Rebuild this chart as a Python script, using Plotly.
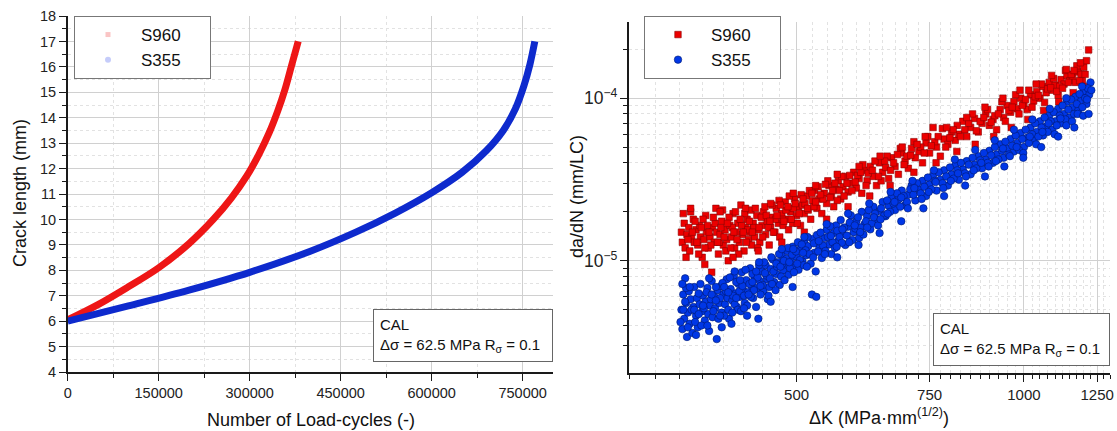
import math
import plotly.graph_objects as go

W, H = 1117, 431
FONT = "Liberation Sans, Arial, Helvetica, sans-serif"

# ---------------- data ----------------
# Left panel: crack length (mm) vs number of load cycles
s960_cycles = [0, 50000, 100000, 150000, 200000, 240000, 270000, 295000, 315000, 332000, 346000, 358000,
               369000, 380000]
s960_crack = [6.05, 6.65, 7.35, 8.1, 9.05, 10.0, 10.85, 11.7, 12.55, 13.4, 14.25, 15.1, 16.05, 17.0]

s355_cycles = [0, 100000, 200000, 300000, 400000, 475000, 540000, 600000, 650000, 690000, 718000, 738000,
               752000, 762000, 770000]
s355_crack = [6.0, 6.6, 7.22, 7.92, 8.75, 9.5, 10.25, 11.05, 11.85, 12.7, 13.5, 14.35, 15.25, 16.1, 17.0]

# Right panel: da/dN (in 1e-6 mm/LC) vs Delta K (MPa mm^0.5)
s960_dk = [352, 353, 355, 356, 358, 360, 361, 363, 365, 366, 368, 370, 372, 373, 375, 377, 379, 380, 382, 384,
           386, 387, 389, 391, 392, 394, 396, 398, 400, 402, 404, 406, 408, 410, 412, 414, 416, 418, 420, 422,
           424, 426, 428, 430, 432, 434, 436, 438, 440, 443, 445, 447, 450, 452, 455, 457, 460, 462, 465, 468,
           470, 473, 475, 478, 480, 483, 486, 488, 491, 494, 497, 500, 503, 506, 509, 512, 515, 518, 522, 525,
           528, 532, 536, 540, 544, 548, 552, 556, 560, 564, 568, 572, 576, 580, 585, 590, 595, 600, 605, 610,
           615, 620, 626, 632, 638, 644, 650, 656, 662, 668, 675, 682, 689, 696, 703, 710, 718, 726, 734, 742,
           750, 758, 766, 775, 784, 793, 802, 811, 820, 830, 840, 850, 860, 870, 880, 890, 900, 910, 920, 930,
           940, 950, 960, 970, 980, 990, 1000, 1010, 1020, 1030, 1040, 1050, 1060, 1070, 1080, 1090, 1100, 1110,
           1120, 1130, 1140, 1150, 1160, 1170, 1180, 1190, 1200, 1210, 1218,
           354, 357, 362, 367, 371, 376, 381, 385, 390, 395, 399, 403, 407, 411, 415, 419, 423, 427, 431, 435,
           439, 444, 449, 454, 459, 464, 469, 474, 479, 484, 489, 495, 501, 507, 513, 520, 527, 534, 542, 550,
           558, 566, 574, 583, 592, 602, 612, 622, 635, 647, 659, 672, 686, 700, 715, 730, 746, 762, 780, 798,
           816, 835, 855, 875, 895, 915, 935, 955, 975, 995, 1015, 1035, 1055, 1075, 1095, 1115, 1135, 1155,
           1175, 1195,
           359, 364, 369, 374, 378, 383, 388, 393, 397, 401, 405, 409, 413, 417, 421, 425, 429, 433, 437, 441,
           446, 451, 456, 461, 466, 471, 476, 481, 487, 492, 498, 504, 510, 517, 524, 530, 538, 546, 554, 562,
           570, 578, 588, 598, 608, 618, 630, 642, 654, 666, 680, 694, 708, 722, 738, 754, 770, 788, 806, 824,
           845, 865, 885, 905, 925, 945, 965, 985, 1005, 1025, 1045, 1065, 1085, 1105, 1125, 1145, 1165, 1185,
           1205,
           362, 378, 396, 412, 428, 445, 462, 478, 495, 512, 530, 548, 566, 585, 605, 625, 645, 665, 690, 715,
           740, 765, 790, 815, 840, 862, 888, 912, 938, 962, 988, 1012, 1038, 1062, 1088, 1112, 1138, 1162,
           1188, 1208]
s960_dadn = [15, 13, 17, 12, 14.5, 16, 11.5, 14, 18, 13, 15.5, 12.5, 16.5, 14, 10.5, 13.5, 19, 15, 12, 14,
             8.5, 16, 13, 21, 15, 11, 14.5, 17.5, 12.5, 15.5, 13.5, 10, 16.5, 14, 19.5, 12, 15, 17, 13, 22,
             14.5, 11.5, 16, 18, 13.5, 15, 12.5, 17, 14, 19, 15.5, 13, 16.5, 20, 14.5, 17.5, 12.5, 16, 18.5, 15,
             21, 17, 14, 19.5, 16.5, 23, 18, 15.5, 20, 17, 24, 19, 21.5, 16.5, 22, 19.5, 25, 20.5, 18, 23.5,
             27, 21, 24, 19.5, 26, 22.5, 29, 25, 21.5, 27.5, 31, 24, 28.5, 33, 26.5, 30, 35, 28, 32, 26,
             36, 31, 38, 33, 29, 40, 35, 37.5, 32, 43, 38, 34, 46, 41, 37, 49, 43, 47, 40, 53,
             46, 66, 50, 44, 56, 52, 62, 55, 60, 72, 58, 66, 75, 62, 70, 80, 68, 74, 64, 85,
             76, 90, 82, 95, 86, 100, 92, 85, 105, 96, 110, 100, 118, 108, 125, 112, 120, 104,
             130, 122, 138, 128, 135, 125, 145, 140, 155, 170, 198,
             19.5, 10.5, 20, 17.5, 11, 18, 16.5, 12.5, 17, 13, 20.5, 11.5, 18.5, 16, 20, 11, 16.5, 19.5, 15.5, 20.5,
             16, 12, 18.5, 21.5, 16, 22, 18, 23.5, 18, 20.5, 25, 21, 17, 25.5, 22.5, 27, 21.5, 28.5, 24, 31,
             27, 23.5, 33, 30, 27, 33.5, 39, 34.5, 41, 31, 44, 40, 49, 44, 54, 50, 58, 54, 65, 57,
             68, 64, 80, 72, 85, 78, 95, 84, 105, 90, 112, 102, 122, 114, 132, 118, 148, 140,
             158, 128,
             13.5, 15, 13, 16, 12, 15, 18.5, 13, 16, 14, 17, 12, 15, 13.5, 18, 15, 13, 17.5, 15, 21,
             16, 14, 19, 17.5, 15, 19, 22, 17.5, 21.5, 18, 22.5, 19.5, 24, 21, 26, 23, 25.5, 29.5, 24.5, 30,
             27, 25, 33.5, 30.5, 35, 29, 36, 33, 41, 36, 45, 39, 44.5, 52, 46, 51, 58, 50, 64, 58,
             70, 63, 76, 71, 80, 72, 88, 80, 98, 88, 104, 94, 116, 110, 115, 125, 148, 128,
             140,
             21, 9.5, 20, 10.5, 21, 11.5, 22.5, 13, 26, 15, 29, 18, 34, 21.5, 38, 25, 44, 29, 50, 35,
             58, 40, 66, 47, 76, 52, 88, 58, 100, 66, 112, 74, 122, 84, 138, 95, 150, 108,
             165, 118]

s355_dk = [352, 353, 354, 355, 356, 357, 358, 359, 360, 361, 362, 364, 365, 366, 368, 369, 370, 372, 373, 375,
           376, 378, 379, 381, 382, 384, 386, 387, 389, 390, 392, 393, 395, 397, 398, 400, 402, 404, 405, 407,
           409, 411, 413, 415, 417, 419, 421, 423, 425, 427, 429, 431, 434, 436, 438, 440, 443, 445, 447, 450,
           452, 455, 457, 460, 462, 465, 467, 470, 473, 475, 478, 480, 483, 486, 488, 491, 494, 497, 500, 503,
           506, 509, 512, 515, 518, 522, 524, 525, 528, 531, 532, 536, 540, 544, 548, 552, 556, 560, 564, 568,
           572, 576, 580, 585, 590, 595, 600, 605, 610, 615, 620, 626, 632, 638, 644, 650, 656, 662, 668, 675,
           682, 689, 696, 703, 710, 718, 726, 734, 742, 750, 758, 766, 775, 784, 793, 802, 811, 820, 830, 840,
           850, 860, 870, 880, 890, 900, 910, 920, 930, 940, 950, 960, 970, 980, 990, 1000, 1010, 1020, 1030,
           1040, 1050, 1060, 1070, 1080, 1090, 1100, 1110, 1120, 1130, 1140, 1150, 1160, 1170, 1180, 1190, 1200,
           1210, 1220, 1225,
           351, 354, 357, 359, 363, 367, 371, 374, 377, 380, 383, 385, 388, 391, 394, 396, 399, 401, 403, 406,
           408, 410, 412, 414, 416, 418, 420, 422, 424, 426, 428, 430, 433, 435, 437, 439, 442, 444, 446, 448,
           451, 453, 456, 458, 461, 463, 466, 469, 471, 474, 477, 479, 482, 485, 487, 490, 493, 496, 499, 502,
           505, 508, 511, 514, 517, 520, 527, 534, 538, 542, 546, 550, 554, 558, 562, 566, 570, 574, 578, 583,
           588, 593, 598, 603, 608, 613, 618, 623, 629, 635, 641, 647, 653, 659, 665, 672, 679, 686, 693, 700,
           707, 714, 722, 730, 738, 746, 754, 762, 771, 780, 789, 798, 807, 816, 825, 835, 845, 855, 865, 875,
           885, 895, 905, 915, 925, 935, 945, 955, 965, 975, 985, 995, 1005, 1015, 1025, 1035, 1045, 1055, 1065,
           1075, 1085, 1095, 1105, 1115, 1125, 1135, 1145, 1155, 1165, 1175, 1185, 1195, 1205, 1215,
           356, 361, 366, 371, 376, 381, 386, 391, 396, 401, 406, 411, 416, 421, 426, 432, 437, 442, 448, 454,
           459, 464, 470, 476, 481, 489, 495, 501, 510, 516, 526, 535, 545, 555, 565, 575, 587, 597, 607, 620,
           633, 646, 660, 674, 688, 702, 716, 732, 748, 764, 782, 800, 818, 838, 858, 878, 898, 918, 938, 958,
           978, 998, 1018, 1038, 1058, 1078, 1098, 1118, 1138, 1158, 1178, 1198, 1212, 1228,
           353, 368, 383, 398, 414, 430, 446, 462, 478, 494, 512, 530, 548, 566, 585, 604, 624, 644, 666, 688,
           712, 736, 760, 784, 810, 836, 862, 888, 915, 942, 970, 998, 1026, 1054, 1082, 1110, 1138, 1166,
           1194, 1218]
s355_dadn = [5.0, 3.8, 6.2, 4.4, 7.8, 5.5, 3.4, 4.8, 6.5, 4.1, 5.8, 3.6, 5.2, 6.9, 4.6, 5.9, 3.9, 5.4, 7.2, 4.9,
             6.1, 4.3, 5.6, 6.8, 4.7, 5.3, 7.5, 4.5, 6.0, 5.1, 3.3, 6.6, 5.5, 7.0, 4.8, 6.2, 5.4, 7.7, 5.9, 4.4,
             6.7, 5.7, 8.1, 6.3, 5.2, 7.2, 6.0, 8.5, 6.6, 5.5, 7.6, 6.4, 9.0, 7.0, 5.9, 8.0, 6.8, 4.4, 7.5, 8.6,
             6.5, 9.4, 7.7, 6.9, 8.9, 10.2, 7.4, 8.3, 9.8, 7.1, 10.8, 8.7, 9.5, 11.5, 8.2, 10.0, 12.2, 9.1, 10.6, 8.8,
             11.8, 9.9, 13.0, 10.8, 12.3, 9.6, 6.2, 13.6, 11.2, 6.0, 14.4, 12.0, 10.4, 13.8, 15.5, 12.6, 11.0, 14.8, 16.5, 13.3,
             17.8, 14.6, 12.5, 16.2, 19.0, 15.0, 17.5, 13.8, 20.0, 16.8, 18.8, 15.6, 21.5, 17.8, 20.2, 23.0, 18.8, 21.8, 25.0, 20.5,
             23.8, 27.0, 22.0, 25.5, 29.0, 23.5, 27.5, 31.0, 25.0, 29.5, 33.5, 27.0, 31.5, 36.0, 29.0, 34.0, 38.5, 31.5, 36.5, 41.0,
             34.0, 39.0, 44.0, 37.0, 42.0, 47.5, 40.0, 45.0, 52.0, 43.0, 49.0, 56.0, 47.0, 53.0, 61.0, 50.0, 57.0, 66.0, 55.0,
             62.0, 72.0, 59.0, 67.0, 78.0, 64.0, 72.0, 86.0, 70.0, 80.0, 95.0, 76.0, 88.0, 102.0, 84.0, 96.0, 110.0,
             92.0, 105.0, 125.0,
             4.2, 5.0, 6.8, 3.9, 5.0, 4.2, 6.3, 4.0, 5.1, 6.4, 3.7, 5.8, 4.9, 6.9, 4.4, 5.9, 7.3, 4.6, 6.5, 5.0,
             7.9, 4.1, 6.1, 5.4, 7.4, 5.0, 6.5, 4.9, 7.0, 6.1, 8.8, 5.3, 7.2, 6.0, 8.3, 6.6, 5.2, 7.9, 9.4, 6.2,
             7.1, 9.8, 8.1, 5.8, 7.8, 10.5, 8.6, 6.6, 9.2, 11.0, 8.0, 9.6, 7.6, 10.3, 12.0, 9.0, 10.9, 8.5, 11.4, 13.0,
             10.1, 12.6, 9.4, 11.6, 14.0, 11.0, 12.8, 11.4, 14.9, 12.4, 11.5, 14.0, 16.3, 13.0, 12.0, 15.3, 14.0, 12.9, 16.0, 14.3,
             17.2, 13.4, 15.8, 18.5, 16.0, 14.5, 17.5, 20.5, 17.0, 19.5, 16.5, 21.0, 19.0, 23.5, 20.0, 22.5, 26.0, 21.5, 25.0, 23.0,
             27.5, 25.5, 30.0, 26.0, 28.5, 32.5, 27.5, 31.0, 35.0, 30.0, 33.0, 37.5, 32.0, 36.0, 40.0, 34.5, 39.0, 43.0, 37.0, 41.5,
             46.0, 40.0, 44.5, 50.0, 42.0, 47.5, 54.0, 45.0, 51.0, 59.0, 48.0, 56.0, 64.0, 53.0, 60.0, 70.0, 58.0, 66.0, 76.0,
             62.0, 72.0, 82.0, 68.0, 78.0, 90.0, 74.0, 85.0, 98.0, 80.0, 92.0, 106.0, 88.0, 100.0, 115.0,
             5.6, 6.9, 5.0, 4.7, 5.3, 4.0, 6.2, 5.7, 4.6, 6.9, 6.4, 4.8, 5.9, 7.6, 5.1, 6.2, 7.4, 8.6, 7.0, 8.4,
             6.1, 7.2, 9.6, 9.2, 10.0, 9.8, 11.8, 9.6, 11.2, 9.2, 10.5, 13.2, 11.0, 14.2, 12.2, 15.6, 13.0, 16.5, 15.0, 16.0,
             18.5, 18.0, 19.5, 23.0, 24.5, 21.0, 28.0, 24.0, 26.5, 30.5, 28.0, 31.0, 34.5, 33.0, 36.0, 40.0, 38.0, 41.0, 49.0, 44.0,
             50.0, 46.0, 58.0, 52.0, 62.0, 70.0, 60.0, 75.0, 68.0, 72.0, 80.0, 78.0, 98.0, 112.0,
             7.2, 3.5, 7.8, 3.9, 8.6, 4.6, 9.8, 5.6, 11.8, 6.9, 14.0, 8.6, 16.8, 10.5, 19.5, 12.5, 22.5, 14.8, 26.5, 17.5,
             31.0, 21.0, 36.0, 25.0, 42.0, 29.0, 48.0, 33.0, 55.0, 38.0, 64.0, 43.0, 74.0, 50.0, 86.0, 58.0, 100.0, 66.0,
             118.0, 80.0]

cycle_ticks = [0, 150000, 300000, 450000, 600000, 750000]
dk_ticks = [500, 750, 1000, 1250]
series_names = ["S960", "S355"]
box_lines = ["CAL", "Δσ = 62.5 MPa R<sub>σ</sub> = 0.1"]

# ---------------- styling ----------------
RED_LINE = "rgb(238,22,22)"
BLUE_LINE = "rgb(14,42,205)"
PAD = "\u00a0" * 5  # widens the legend boxes like the reference


def fx(p):
    return p / W


def fy(p):
    return 1 - p / H


fig = go.Figure()

# Left panel curves
fig.add_trace(go.Scatter(x=s960_cycles, y=s960_crack, mode="lines",
                         line=dict(color=RED_LINE, width=7, shape="spline", smoothing=1.0),
                         xaxis="x", yaxis="y", showlegend=False, hoverinfo="skip"))
fig.add_trace(go.Scatter(x=s355_cycles, y=s355_crack, mode="lines",
                         line=dict(color=BLUE_LINE, width=7, shape="spline", smoothing=1.0),
                         xaxis="x", yaxis="y", showlegend=False, hoverinfo="skip"))
# Left legend entries (faint symbols as in the reference)
fig.add_trace(go.Scatter(x=[None], y=[None], mode="markers", name=series_names[0] + PAD,
                         marker=dict(symbol="square", size=5, color="rgba(240,90,90,0.35)"),
                         xaxis="x", yaxis="y", legend="legend"))
fig.add_trace(go.Scatter(x=[None], y=[None], mode="markers", name=series_names[1] + PAD,
                         marker=dict(symbol="circle", size=6, color="rgba(90,110,240,0.35)"),
                         xaxis="x", yaxis="y", legend="legend"))

# Right panel scatter
fig.add_trace(go.Scatter(x=s960_dk, y=[v * 1e-6 for v in s960_dadn], mode="markers", name=series_names[0] + PAD,
                         marker=dict(symbol="square", size=6.5, color="rgb(236,0,0)",
                                     line=dict(color="rgb(140,0,0)", width=0.6)),
                         xaxis="x2", yaxis="y2", legend="legend2"))
fig.add_trace(go.Scatter(x=s355_dk, y=[v * 1e-6 for v in s355_dadn], mode="markers", name=series_names[1] + PAD,
                         marker=dict(symbol="circle", size=7.5, color="rgb(0,55,230)",
                                     line=dict(color="rgb(0,25,110)", width=0.6)),
                         xaxis="x2", yaxis="y2", legend="legend2"))

axis_common = dict(showline=True, linecolor="#1a1a1a", linewidth=1.5, ticks="outside", ticklen=7,
                   tickwidth=1.3, tickcolor="#1a1a1a", showgrid=True, gridcolor="#d0d0d0", gridwidth=1,
                   zeroline=False, mirror=False, automargin=False)
minor_common = dict(ticks="outside", ticklen=4, tickwidth=1, tickcolor="#1a1a1a", showgrid=True,
                    gridcolor="#e2e2e2", griddash="dot", gridwidth=1)

left_x = [67.7, 553]
left_y = [16, 372]
right_x = [629, 1110]
right_y = [21.7, 373]

minor_dk = [v for v in range(300, 1301, 25) if v not in dk_ticks]

fig.update_layout(
    template="none",
    width=W, height=H, autosize=False,
    margin=dict(l=0, r=0, t=0, b=0, pad=0, autoexpand=False),
    paper_bgcolor="white", plot_bgcolor="white",
    font=dict(family=FONT, size=14, color="#222"),
    hovermode=False,
    xaxis=dict(domain=[fx(left_x[0]), fx(left_x[1])], range=[0, 800000], anchor="y",
               tickmode="array", tickvals=cycle_ticks, tickformat="d",
               tickfont=dict(family=FONT, size=14.5, color="#222"),
               minor=dict(tickmode="linear", tick0=0, dtick=75000, **minor_common), **axis_common),
    yaxis=dict(domain=[fy(left_y[1]), fy(left_y[0])], range=[4, 18], anchor="x",
               tickmode="linear", tick0=4, dtick=1,
               tickfont=dict(family=FONT, size=14.5, color="#222"),
               minor=dict(tickmode="linear", tick0=4, dtick=0.5, **minor_common), **axis_common),
    xaxis2=dict(domain=[fx(right_x[0]), fx(right_x[1])], type="log",
                range=[math.log10(300), math.log10(1300)], anchor="y2",
                tickmode="array", tickvals=dk_ticks, ticktext=[str(v) for v in dk_ticks],
                tickfont=dict(family=FONT, size=15, color="#222"),
                minor=dict(tickmode="array", tickvals=minor_dk, **minor_common), **axis_common),
    yaxis2=dict(domain=[fy(right_y[1]), fy(right_y[0])], type="log", range=[-5.69, -3.53], anchor="x2",
                dtick=1, exponentformat="power", showexponent="all",
                tickfont=dict(family=FONT, size=14, color="#222"),
                minor=dict(dtick="D1", **minor_common), **axis_common),
    legend=dict(x=fx(74), y=fy(16), xanchor="left", yanchor="top", bgcolor="white",
                bordercolor="#777", borderwidth=1, font=dict(family=FONT, size=17, color="#111"),
                itemwidth=56, tracegroupgap=0),
    legend2=dict(x=fx(644), y=fy(16), xanchor="left", yanchor="top", bgcolor="white",
                 bordercolor="#777", borderwidth=1, font=dict(family=FONT, size=17, color="#111"),
                 itemwidth=56, tracegroupgap=0),
    showlegend=True,
)

annotations = [
    # axis titles
    dict(text="Number of Load-cycles (-)", x=fx(311), y=fy(420), xref="paper", yref="paper",
         showarrow=False, xanchor="center", yanchor="middle", font=dict(family=FONT, size=18, color="#111")),
    dict(text="Crack length (mm)", x=fx(20), y=fy(193), xref="paper", yref="paper", textangle=-90,
         showarrow=False, xanchor="center", yanchor="middle", font=dict(family=FONT, size=18, color="#111")),
    dict(text="da/dN (mm/LC)", x=fx(577), y=fy(197), xref="paper", yref="paper", textangle=-90,
         showarrow=False, xanchor="center", yanchor="middle", font=dict(family=FONT, size=18, color="#111")),
    dict(text="ΔK (MPa·mm<sup>(1/2)</sup>)", x=fx(879), y=fy(416), xref="paper", yref="paper",
         showarrow=False, xanchor="center", yanchor="middle", font=dict(family=FONT, size=18, color="#111")),
    # CAL boxes
    dict(text="<br>".join(box_lines), x=fx(553), y=fy(362), xref="paper", yref="paper",
         showarrow=False, xanchor="right", yanchor="bottom", align="left", width=166, height=39,
         borderpad=6, bordercolor="#666", borderwidth=1, bgcolor="white",
         font=dict(family=FONT, size=15, color="#111")),
    dict(text="<br>".join(box_lines), x=fx(1110), y=fy(366), xref="paper", yref="paper",
         showarrow=False, xanchor="right", yanchor="bottom", align="left", width=163, height=39,
         borderpad=6, bordercolor="#666", borderwidth=1, bgcolor="white",
         font=dict(family=FONT, size=15, color="#111")),
]
fig.update_layout(annotations=annotations)

fig.write_html("out.html", config={"displayModeBar": False},
               post_script="document.body.style.margin='0px';document.body.style.overflow='hidden';")
